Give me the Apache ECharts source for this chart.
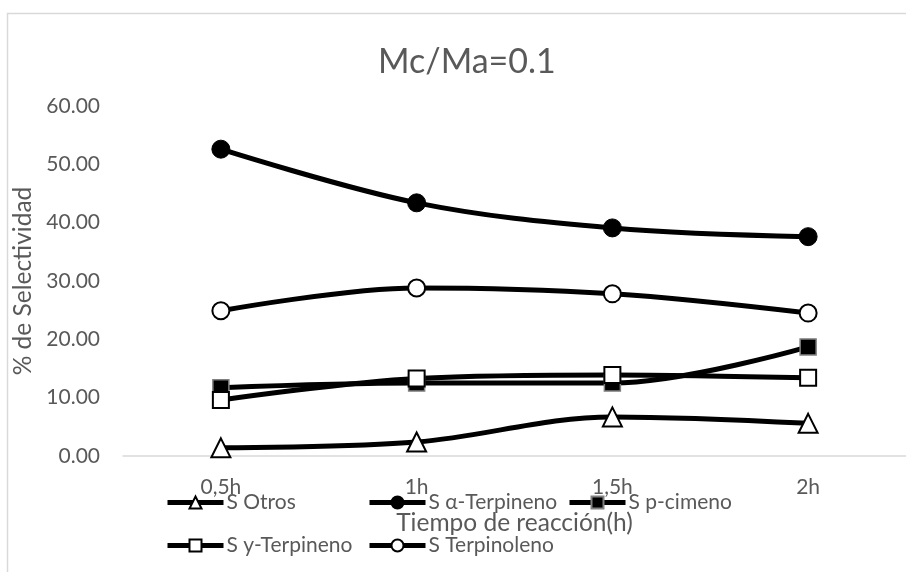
<!DOCTYPE html>
<html>
<head>
<meta charset="utf-8">
<script src="https://cdn.jsdelivr.net/npm/echarts@6/dist/echarts.min.js"></script>
<style>
html,body{margin:0;padding:0;background:#fff;}
#chart{width:906px;height:572px;}
</style>
</head>
<body>
<div id="chart"></div>
<script>
// ---- data ----
var categories = ['0,5h', '1h', '1,5h', '2h'];
var seriesNames = ['S Otros', 'S α-Terpineno', 'S p-cimeno', 'S y-Terpineno', 'S Terpinoleno'];
var sOtros = [1.4, 2.4, 6.7, 5.6];
var sAlfaTerpineno = [52.6, 43.4, 39.1, 37.6];
var sPCimeno = [11.7, 12.5, 12.5, 18.7];
var sGammaTerpineno = [9.6, 13.3, 13.9, 13.4];
var sTerpinoleno = [24.9, 28.8, 27.8, 24.5];
var yTicks = [0, 10, 20, 30, 40, 50, 60];

var FONT = 'Lato';
var GREY = '#595959';

var chart = echarts.init(document.getElementById('chart'), null, {renderer: 'canvas'});

function lineSeries(name, data, symbol, size, itemStyle) {
  return {
    name: name,
    type: 'line',
    data: data,
    smooth: 0.35,
    symbol: symbol,
    symbolSize: size,
    lineStyle: {color: '#000', width: 5},
    itemStyle: itemStyle,
    emphasis: {disabled: true}
  };
}

function legendAt(name, left, top) {
  return {
    data: [name],
    left: left,
    top: top,
    padding: 0,
    itemWidth: 56,
    itemHeight: 15,
    selectedMode: false,
    lineStyle: {color: '#000', width: 5},
    textStyle: {fontFamily: FONT, fontSize: 21, color: GREY, padding: [0, 0, 0, -2]}
  };
}

var option = {
  animation: false,
  backgroundColor: '#fff',
  title: {
    text: 'Mc/Ma=0.1',
    left: 373,
    top: 40,
    textStyle: {fontFamily: FONT, fontSize: 34, fontWeight: 'normal', color: GREY}
  },
  graphic: [{
    type: 'rect',
    shape: {x: 7.5, y: 13.5, width: 1000, height: 1000},
    style: {fill: 'none', stroke: '#d9d9d9', lineWidth: 1.5},
    silent: true
  }],
  legend: [
    legendAt(seriesNames[0], 165, 492),
    legendAt(seriesNames[1], 367, 492),
    legendAt(seriesNames[2], 567, 492),
    legendAt(seriesNames[3], 165, 535),
    legendAt(seriesNames[4], 367, 535)
  ],
  grid: {left: 123, right: -12, top: 106, bottom: 116, containLabel: false},
  xAxis: {
    type: 'category',
    data: categories,
    boundaryGap: true,
    axisLine: {lineStyle: {color: '#d9d9d9', width: 1.5}},
    axisTick: {show: false},
    axisLabel: {fontFamily: FONT, fontSize: 21, color: GREY, margin: 21},
    name: 'Tiempo de reacción(h)',
    nameLocation: 'middle',
    nameGap: 55,
    nameTextStyle: {fontFamily: FONT, fontSize: 24.5, color: GREY}
  },
  yAxis: {
    type: 'value',
    min: yTicks[0],
    max: yTicks[yTicks.length - 1],
    interval: 10,
    axisLine: {show: false},
    axisTick: {show: false},
    splitLine: {show: false},
    axisLabel: {
      fontFamily: FONT, fontSize: 21, color: GREY, margin: 23,
      formatter: function (v) { return v.toFixed(2); }
    },
    name: '% de Selectividad',
    nameLocation: 'middle',
    nameRotate: 90,
    nameGap: 78,
    nameTextStyle: {fontFamily: FONT, fontSize: 24.5, color: GREY}
  },
  series: [
    lineSeries(seriesNames[0], sOtros, 'triangle', 19, {color: '#fff', borderColor: '#000', borderWidth: 2}),
    lineSeries(seriesNames[1], sAlfaTerpineno, 'circle', 18, {color: '#000', borderColor: '#000', borderWidth: 1}),
    lineSeries(seriesNames[2], sPCimeno, 'rect', 16, {color: '#000', borderColor: '#808080', borderWidth: 1.5}),
    lineSeries(seriesNames[3], sGammaTerpineno, 'rect', 16, {color: '#fff', borderColor: '#000', borderWidth: 2}),
    lineSeries(seriesNames[4], sTerpinoleno, 'circle', 17, {color: '#fff', borderColor: '#000', borderWidth: 2})
  ]
};

chart.setOption(option);
</script>
</body>
</html>
